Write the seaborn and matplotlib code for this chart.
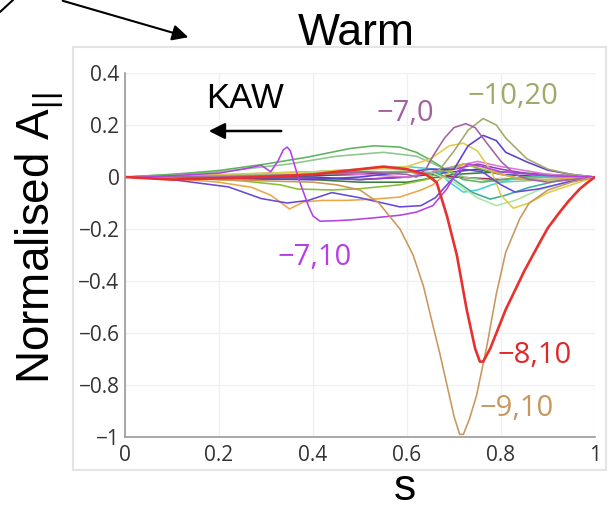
import matplotlib
matplotlib.use("Agg")
import matplotlib.pyplot as plt
import pandas as pd
import seaborn as sns
from matplotlib.patches import Rectangle, FancyArrowPatch
from matplotlib.lines import Line2D

# ---------------- data ----------------
s_m9_10 = [0, 0.1, 0.2, 0.3, 0.4, 0.45, 0.5, 0.54, 0.585, 0.613, 0.635, 0.655, 0.67, 0.685, 0.70, 0.712, 0.72, 0.733, 0.748, 0.77, 0.79, 0.81, 0.84, 0.86, 0.9, 0.95, 1]
a_m9_10 = [0, -0.005, -0.01, -0.015, -0.02, -0.03, -0.05, -0.10, -0.20, -0.30, -0.42, -0.57, -0.68, -0.80, -0.92, -0.99, -0.99, -0.93, -0.84, -0.65, -0.45, -0.29, -0.16, -0.10, -0.05, -0.02, 0]

s_m8_10 = [0, 0.1, 0.2, 0.3, 0.4, 0.5, 0.55, 0.6, 0.64, 0.663, 0.685, 0.706, 0.727, 0.745, 0.755, 0.762, 0.777, 0.81, 0.85, 0.883, 0.90, 0.925, 0.945, 0.968, 0.985, 1]
a_m8_10 = [0, -0.01, -0.005, 0.0, 0.01, 0.03, 0.04, 0.03, 0.01, -0.02, -0.15, -0.30, -0.51, -0.66, -0.71, -0.71, -0.66, -0.51, -0.36, -0.25, -0.195, -0.135, -0.09, -0.045, -0.02, 0]

s_m7_10 = [0, 0.1, 0.2, 0.25, 0.29, 0.31, 0.325, 0.337, 0.345, 0.352, 0.36, 0.37, 0.38, 0.39, 0.40, 0.415, 0.45, 0.48, 0.53, 0.585, 0.62, 0.655, 0.685, 0.706, 0.73, 0.76, 0.8, 0.9, 1]
a_m7_10 = [0, 0.005, 0.015, 0.03, 0.045, 0.02, 0.06, 0.105, 0.115, 0.10, 0.05, -0.01, -0.06, -0.11, -0.15, -0.17, -0.168, -0.165, -0.157, -0.147, -0.135, -0.11, -0.045, 0.02, 0.05, 0.04, 0.02, 0.005, 0]

s_m7_0 = [0, 0.2, 0.4, 0.5, 0.6, 0.62, 0.64, 0.655, 0.68, 0.70, 0.725, 0.745, 0.77, 0.80, 0.83, 0.86, 0.9, 0.95, 1]
a_m7_0 = [0, 0.0, 0.01, 0.02, 0.01, 0.0, 0.03, 0.08, 0.15, 0.19, 0.205, 0.19, 0.13, 0.06, 0.01, -0.01, -0.02, -0.01, 0]

s_m10_20 = [0, 0.2, 0.4, 0.5, 0.6, 0.65, 0.67, 0.70, 0.73, 0.762, 0.79, 0.81, 0.855, 0.9, 0.95, 1]
a_m10_20 = [0, 0.005, 0.01, 0.02, 0.02, 0.01, 0.03, 0.10, 0.18, 0.225, 0.20, 0.15, 0.07, 0.03, 0.01, 0]

s_c6 = [0, 0.2, 0.4, 0.5, 0.6, 0.65, 0.70, 0.73, 0.762, 0.79, 0.81, 0.855, 0.90, 0.95, 1]
a_c6 = [0, -0.005, -0.01, 0.0, 0.02, 0.03, 0.03, 0.12, 0.16, 0.14, 0.095, 0.058, 0.026, 0.01, 0]

s_c7 = [0, 0.1, 0.22, 0.29, 0.345, 0.39, 0.44, 0.5, 0.585, 0.63, 0.66, 0.69, 0.72, 0.76, 0.80, 0.83, 0.88, 0.94, 1]
a_c7 = [0, -0.01, -0.038, -0.083, -0.10, -0.09, -0.06, -0.08, -0.115, -0.11, -0.08, -0.02, 0.03, 0.02, -0.03, -0.058, -0.046, -0.02, 0]

s_c8 = [0, 0.1, 0.2, 0.27, 0.31, 0.33, 0.35, 0.38, 0.42, 0.47, 0.53, 0.585, 0.63, 0.655, 0.69, 0.72, 0.76, 0.80, 0.85, 0.9, 0.95, 1]
a_c8 = [0, -0.005, -0.02, -0.04, -0.07, -0.096, -0.123, -0.096, -0.09, -0.09, -0.085, -0.077, -0.05, -0.03, 0.02, 0.05, 0.04, 0.01, -0.01, -0.01, -0.005, 0]

s_c9 = [0, 0.2, 0.4, 0.5, 0.6, 0.65, 0.69, 0.72, 0.75, 0.78, 0.80, 0.826, 0.86, 0.9, 0.95, 1]
a_c9 = [0, 0.01, 0.02, 0.03, 0.04, 0.07, 0.12, 0.13, 0.10, 0.02, -0.07, -0.12, -0.10, -0.06, -0.03, 0]

s_c10 = [0, 0.1, 0.2, 0.3, 0.39, 0.48, 0.53, 0.585, 0.62, 0.655, 0.69, 0.72, 0.76, 0.8, 0.85, 0.9, 1]
a_c10 = [0, 0.01, 0.025, 0.05, 0.077, 0.11, 0.12, 0.115, 0.095, 0.06, 0.02, -0.01, -0.02, -0.01, 0.0, 0.0, 0]

s_c11 = [0, 0.2, 0.35, 0.45, 0.55, 0.62, 0.67, 0.72, 0.8, 0.9, 1]
a_c11 = [0, 0.02, 0.05, 0.08, 0.095, 0.08, 0.04, 0.0, -0.02, -0.01, 0]

s_c12 = [0, 0.15, 0.25, 0.33, 0.366, 0.44, 0.5, 0.585, 0.64, 0.68, 0.72, 0.78, 0.85, 0.92, 1]
a_c12 = [0, -0.005, -0.015, -0.03, -0.046, -0.05, -0.045, -0.03, -0.01, 0.03, 0.05, 0.02, -0.01, -0.01, 0]

s_c13 = [0, 0.2, 0.4, 0.5, 0.6, 0.66, 0.69, 0.72, 0.75, 0.78, 0.82, 0.88, 0.94, 1]
a_c13 = [0, 0.005, 0.02, 0.03, 0.04, 0.03, -0.02, -0.058, -0.05, -0.03, -0.01, 0.0, 0.0, 0]

s_c14 = [0, 0.2, 0.4, 0.55, 0.65, 0.7, 0.74, 0.777, 0.81, 0.86, 0.92, 1]
a_c14 = [0, 0.0, 0.01, 0.02, 0.02, -0.01, -0.06, -0.085, -0.07, -0.04, -0.015, 0]

s_c15 = [0, 0.2, 0.4, 0.55, 0.65, 0.7, 0.75, 0.79, 0.83, 0.88, 0.94, 1]
a_c15 = [0, 0.005, 0.015, 0.03, 0.02, -0.02, -0.08, -0.11, -0.09, -0.05, -0.02, 0]

s_c16 = [0, 0.2, 0.4, 0.5, 0.6, 0.7, 0.8, 0.9, 1]
a_c16 = [0, -0.005, -0.01, -0.02, -0.02, 0.01, 0.02, 0.01, 0]

s_c17 = [0, 0.2, 0.3, 0.4, 0.5, 0.6, 0.7, 0.75, 0.8, 0.9, 1]
a_c17 = [0, 0.005, 0.015, 0.02, 0.01, 0.0, 0.04, 0.06, 0.04, 0.01, 0]

s_c18 = [0, 0.2, 0.4, 0.5, 0.6, 0.7, 0.8, 0.9, 1]
a_c18 = [0, -0.003, 0.005, 0.01, 0.02, 0.0, -0.01, 0.0, 0]

s_c19 = [0, 0.2, 0.4, 0.5, 0.6, 0.7, 0.75, 0.8, 0.9, 1]
a_c19 = [0, 0.0, 0.0, -0.01, 0.0, 0.02, 0.03, 0.01, 0.0, 0]

s_c20 = [0, 0.3, 0.5, 0.6, 0.7, 0.75, 0.8, 0.9, 1]
a_c20 = [0, 0.0, -0.01, 0.0, 0.03, 0.05, 0.03, 0.0, 0]

xticks = [0, 0.2, 0.4, 0.6, 0.8, 1]
xtick_labels = ["0", "0.2", "0.4", "0.6", "0.8", "1"]
yticks = [-1, -0.8, -0.6, -0.4, -0.2, 0, 0.2, 0.4]
ytick_labels = ["\u22121", "\u22120.8", "\u22120.6", "\u22120.4", "\u22120.2", "0", "0.2", "0.4"]

label_texts = ["\u22127,0", "\u221210,20", "\u22127,10", "\u22128,10", "\u22129,10"]

# ---------------- styling ----------------
curves = [
    ("c16", s_c16, a_c16), ("c18", s_c18, a_c18), ("c19", s_c19, a_c19),
    ("c20", s_c20, a_c20), ("c17", s_c17, a_c17), ("c11", s_c11, a_c11),
    ("c10", s_c10, a_c10), ("c12", s_c12, a_c12), ("c13", s_c13, a_c13),
    ("c14", s_c14, a_c14), ("c15", s_c15, a_c15), ("c9", s_c9, a_c9),
    ("c8", s_c8, a_c8), ("c7", s_c7, a_c7), ("c6", s_c6, a_c6),
    ("m10_20", s_m10_20, a_m10_20), ("m7_0", s_m7_0, a_m7_0),
    ("m7_10", s_m7_10, a_m7_10), ("m9_10", s_m9_10, a_m9_10),
]
palette = {
    "c16": "#3c7c3c", "c18": "#a02848", "c19": "#3050a8", "c20": "#9040c0",
    "c17": "#d878d8", "c11": "#8cc88c", "c10": "#5cb45c", "c12": "#88c030",
    "c13": "#40d4d8", "c14": "#3aaa9a", "c15": "#a8e8a0", "c9": "#e0cc48",
    "c8": "#e8a848", "c7": "#6a48d8", "c6": "#5c3ed2", "m10_20": "#a2a86a",
    "m7_0": "#a3629f", "m7_10": "#b640e6", "m9_10": "#c9975c",
    "m8_10": "#e8302e",
}

rows = []
for name, s, a in curves:
    for si, ai in zip(s, a):
        rows.append({"curve": name, "s": si, "A": ai})
df = pd.DataFrame(rows)
df_red = pd.DataFrame({"curve": "m8_10", "s": s_m8_10, "A": a_m8_10})

sns.set_theme(style="white")
plt.rcParams["font.family"] = ["Open Sans", "DejaVu Sans"]
plt.rcParams["mathtext.fontset"] = "custom"
plt.rcParams["mathtext.rm"] = "Liberation Sans"
plt.rcParams["mathtext.it"] = "Liberation Sans"

W, H = 615, 512
fig = plt.figure(figsize=(W / 100, H / 100), dpi=100)
fig.patch.set_facecolor("white")

# faint outer frame
fig.add_artist(Rectangle((73 / W, 1 - 470 / H), (606 - 73) / W, (470 - 47) / H,
                         transform=fig.transFigure, facecolor="white",
                         edgecolor="#e4e4e4", lw=1.5, zorder=0))

ax = fig.add_axes([125 / W, 1 - 437 / H, (595 - 125) / W, (437 - 73) / H])
ax.set_facecolor("white")

sns.lineplot(data=df, x="s", y="A", hue="curve", hue_order=[c[0] for c in curves],
             palette=palette, sort=False, estimator=None, legend=False,
             linewidth=1.15, ax=ax)
sns.lineplot(data=df_red, x="s", y="A", hue="curve", palette=palette, sort=False,
             estimator=None, legend=False, linewidth=1.9, ax=ax)

ax.set_xlim(0, 1)
ax.set_ylim(-1, 0.4)
ax.set_xticks(xticks)
ax.set_xticklabels(xtick_labels)
ax.set_yticks(yticks)
ax.set_yticklabels(ytick_labels)
ax.grid(True, color="#f0f0f0", lw=1)
ax.set_axisbelow(True)
for side in ["top", "right"]:
    ax.spines[side].set_visible(False)
for side in ["left", "bottom"]:
    ax.spines[side].set_color("#9a9a9a")
    ax.spines[side].set_linewidth(1.2)
ax.tick_params(direction="in", length=3, width=1, color="#9a9a9a",
               labelsize=15, labelcolor="#333333")
ax.tick_params(axis="x", pad=6)
ax.tick_params(axis="y", pad=4)
ax.set_xlabel("")
ax.set_ylabel("")

# titles / labels
fig.text(356 / W, 1 - 45 / H, "Warm", ha="center", va="baseline",
         fontsize=32, family="Liberation Sans", color="black")
fig.text(405 / W, 1 - 500 / H, "s", ha="center", va="baseline",
         fontsize=32, family="Liberation Sans", color="black")
fig.text(49 / W, 1 - 238 / H, r"Normalised A$_{||}$", ha="center", va="baseline",
         rotation=90, rotation_mode="anchor", fontsize=33,
         family="Liberation Sans", color="black")

# KAW annotation
fig.text(245 / W, 1 - 98 / H, "KAW", ha="center", va="center",
         fontsize=25, family="Liberation Sans", color="black")
fig.add_artist(FancyArrowPatch(
    (284 / W, 1 - 131 / H), (206 / W, 1 - 131 / H), transform=fig.transFigure,
    arrowstyle="-|>", mutation_scale=24, lw=1.8, color="black"))

# cut-off arrows at the top-left corner
fig.add_artist(Line2D([0 / W, 13 / W], [1 - 12 / H, 1 - 0 / H],
                      transform=fig.transFigure, color="black", lw=1.5))
fig.add_artist(FancyArrowPatch(
    (60 / W, 1 - 0 / H), (191 / W, 1 - 38 / H), transform=fig.transFigure,
    arrowstyle="-|>", mutation_scale=24, lw=1.5, color="black"))

# curve labels (data coords)
label_x = [0.535, 0.728, 0.325, 0.793, 0.755]
label_y = [0.245, 0.31, -0.31, -0.685, -0.89]
label_colors = ["#a3629f", "#a2a86a", "#b640e6", "#e0282a", "#c9975c"]
for t, x, y, c in zip(label_texts, label_x, label_y, label_colors):
    ax.text(x, y, t, ha="left", va="center", fontsize=21, color=c,
            family=["Open Sans", "DejaVu Sans"])

fig.savefig("out.png", dpi=100, facecolor="white")
